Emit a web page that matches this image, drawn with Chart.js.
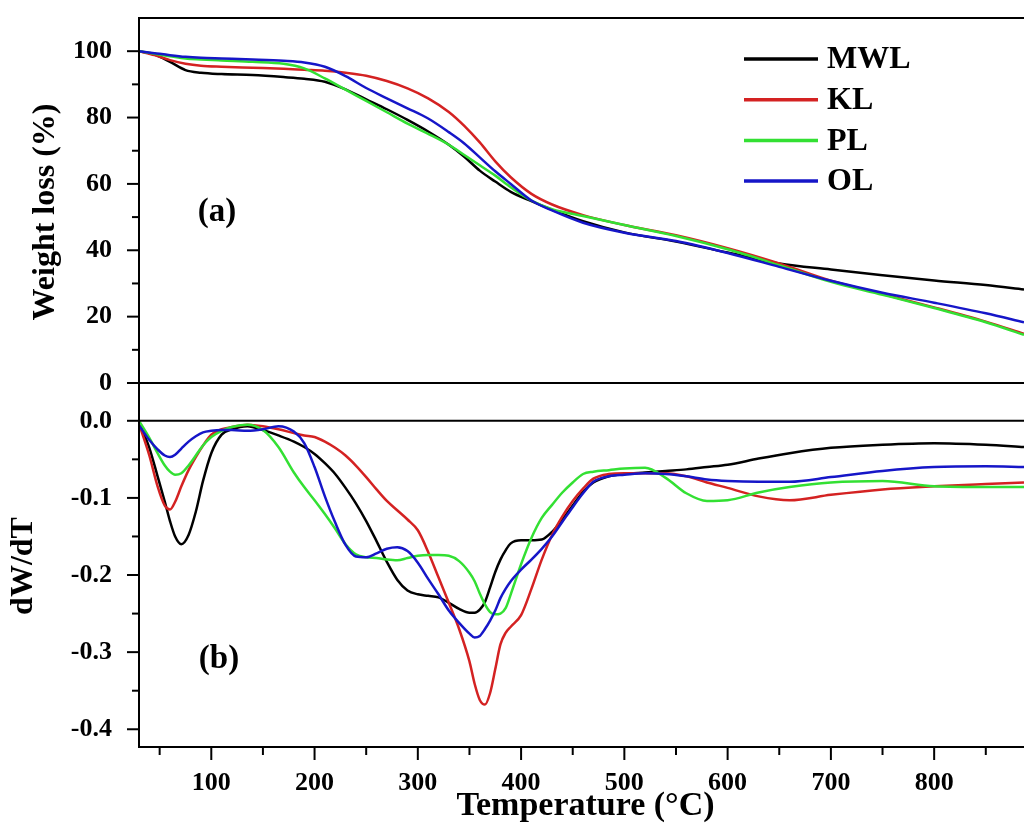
<!DOCTYPE html>
<html>
<head>
<meta charset="utf-8">
<script src="https://cdn.jsdelivr.net/npm/chart.js@4.4.1/dist/chart.umd.min.js"></script>
<style>
  html, body { margin: 0; padding: 0; background: #fff; }
</style>
</head>
<body>
<canvas id="tgChart" width="1024" height="828"></canvas>
<script>
// series names and colours
var seriesNames = ["MWL", "KL", "PL", "OL"];
var seriesColors = ["#000000", "#d42222", "#33e033", "#1616c8"];

// (a) weight loss curves
var tgTemps = [30, 45, 60, 75, 90, 110, 140, 170, 190, 210, 230, 250, 270, 290, 310, 330, 345, 360, 375, 390, 410, 430, 460, 500, 550, 600, 650, 700, 750, 800, 850, 887];
var tgMWL = [100, 99, 96.8, 94.3, 93.5, 93.1, 92.8, 92.2, 91.7, 90.8, 88.5, 85.5, 82.5, 79.3, 75.8, 71.8, 68.2, 64, 60.7, 57.6, 54.8, 52.2, 48.8, 45.4, 42.6, 39.3, 36, 34.2, 32.5, 30.9, 29.5, 28.2];
var tgKL = [100, 98.8, 97.3, 96.2, 95.6, 95.3, 95, 94.7, 94.4, 94.1, 93.5, 92.6, 91, 88.8, 85.8, 81.7, 77.5, 72.5, 66.8, 62, 57, 53.8, 50.6, 47.6, 44.5, 40.6, 36, 30.8, 26.8, 22.8, 18.5, 14.8];
var tgPL = [100, 99.2, 98.5, 97.8, 97.5, 97.2, 96.8, 96.2, 94.8, 91.8, 88.4, 85, 81.6, 78.2, 75.1, 71.8, 68.7, 65.6, 62.5, 59, 55, 52.4, 50.3, 47.6, 44.3, 40.3, 35.5, 30.5, 26.6, 22.6, 18.3, 14.5];
var tgOL = [100, 99.4, 98.8, 98.3, 98, 97.8, 97.5, 97.1, 96.6, 95.3, 92.5, 88.9, 85.8, 82.8, 79.7, 75.6, 72.2, 68, 63.8, 60, 55, 52, 48.3, 45.3, 42.8, 39.2, 35, 30.8, 27.2, 24.2, 21, 18.3];

// (b) derivative curves
var dtgTemps = [30, 40, 48, 55, 60, 65, 71, 78, 85, 92, 100, 110, 120, 135, 150, 165, 180, 190, 200, 210, 220, 230, 240, 250, 260, 270, 280, 290, 300, 310, 320, 330, 340, 350, 355, 360, 365, 370, 375, 380, 385, 390, 400, 410, 420, 430, 440, 450, 460, 470, 485, 500, 520, 540, 560, 580, 600, 630, 660, 700, 750, 800, 850, 887];
var dtgMWL = [-0.002, -0.035, -0.072, -0.105, -0.130, -0.150, -0.160, -0.148, -0.118, -0.078, -0.042, -0.018, -0.011, -0.007, -0.012, -0.019, -0.027, -0.034, -0.043, -0.055, -0.069, -0.087, -0.107, -0.130, -0.156, -0.183, -0.206, -0.220, -0.225, -0.227, -0.229, -0.236, -0.244, -0.249, -0.249, -0.245, -0.235, -0.216, -0.196, -0.180, -0.168, -0.159, -0.155, -0.155, -0.154, -0.144, -0.128, -0.110, -0.092, -0.080, -0.072, -0.069, -0.067, -0.065, -0.063, -0.060, -0.057, -0.049, -0.042, -0.035, -0.031, -0.029, -0.031, -0.034];
var dtgKL = [-0.004, -0.045, -0.085, -0.110, -0.115, -0.105, -0.085, -0.064, -0.047, -0.032, -0.018, -0.011, -0.008, -0.005, -0.007, -0.011, -0.016, -0.019, -0.021, -0.027, -0.035, -0.045, -0.058, -0.073, -0.089, -0.104, -0.116, -0.128, -0.142, -0.170, -0.203, -0.236, -0.270, -0.312, -0.341, -0.362, -0.368, -0.353, -0.322, -0.290, -0.275, -0.267, -0.252, -0.218, -0.180, -0.148, -0.124, -0.104, -0.088, -0.075, -0.069, -0.068, -0.068, -0.068, -0.072, -0.080, -0.087, -0.098, -0.103, -0.096, -0.089, -0.085, -0.082, -0.080];
var dtgPL = [0, -0.022, -0.042, -0.058, -0.066, -0.070, -0.068, -0.058, -0.045, -0.032, -0.021, -0.013, -0.008, -0.005, -0.012, -0.034, -0.067, -0.086, -0.103, -0.121, -0.140, -0.160, -0.173, -0.177, -0.178, -0.180, -0.181, -0.178, -0.175, -0.174, -0.174, -0.175, -0.182, -0.197, -0.208, -0.224, -0.238, -0.248, -0.251, -0.250, -0.243, -0.225, -0.186, -0.152, -0.126, -0.109, -0.093, -0.080, -0.069, -0.066, -0.064, -0.062, -0.061, -0.074, -0.094, -0.104, -0.103, -0.093, -0.086, -0.080, -0.078, -0.085, -0.086, -0.086];
var dtgOL = [-0.006, -0.025, -0.037, -0.045, -0.047, -0.044, -0.036, -0.027, -0.020, -0.015, -0.013, -0.012, -0.012, -0.013, -0.011, -0.007, -0.014, -0.029, -0.060, -0.098, -0.132, -0.161, -0.176, -0.177, -0.172, -0.166, -0.164, -0.169, -0.184, -0.205, -0.225, -0.246, -0.262, -0.276, -0.281, -0.279, -0.270, -0.259, -0.246, -0.230, -0.218, -0.208, -0.193, -0.180, -0.166, -0.150, -0.131, -0.112, -0.094, -0.079, -0.072, -0.070, -0.068, -0.069, -0.072, -0.076, -0.078, -0.079, -0.079, -0.073, -0.065, -0.060, -0.059, -0.060];

// ticks
var tempTicks = [100, 200, 300, 400, 500, 600, 700, 800];
var tempMinor = [50, 150, 250, 350, 450, 550, 650, 750, 850];
var weightTicks = [0, 20, 40, 60, 80, 100];
var weightMinor = [10, 30, 50, 70, 90];
var dtgTicks = [-0.4, -0.3, -0.2, -0.1, 0];
var dtgMinor = [-0.35, -0.25, -0.15, -0.05];

var serif = "'Liberation Serif', 'Times New Roman', serif";
var tickFont = { family: serif, size: 26, weight: "bold" };
var drawOrder = [3, 2, 1, 0]; // blue on top, black underneath

function points(xs, ys) {
    return xs.map(function (x, i) { return { x: x, y: ys[i] }; });
}

var datasets = [];
[tgMWL, tgKL, tgPL, tgOL].forEach(function (s, i) {
    datasets.push({
        label: seriesNames[i], data: points(tgTemps, s), yAxisID: "yW",
        borderColor: seriesColors[i], borderWidth: 2.5, pointRadius: 0,
        cubicInterpolationMode: "monotone", fill: false, order: drawOrder[i]
    });
});
[dtgMWL, dtgKL, dtgPL, dtgOL].forEach(function (s, i) {
    datasets.push({
        label: seriesNames[i], data: points(dtgTemps, s), yAxisID: "yD",
        borderColor: seriesColors[i], borderWidth: 2.5, pointRadius: 0,
        cubicInterpolationMode: "monotone", fill: false, order: drawOrder[i]
    });
});

// keep the tick labels from pushing the plot area around
function noPadding(s) {
    s.paddingTop = 0; s.paddingBottom = 0; s.paddingLeft = 0; s.paddingRight = 0;
}

// frame, ticks, titles, legend and panel labels
var framePlugin = {
    id: "frame",
    afterDraw: function (chart) {
        var ctx = chart.ctx, a = chart.chartArea;
        var sx = chart.scales.x, sw = chart.scales.yW, sd = chart.scales.yD;
        ctx.save();
        ctx.strokeStyle = "#000";
        ctx.lineWidth = 2;
        function line(x1, y1, x2, y2) {
            ctx.beginPath(); ctx.moveTo(x1, y1); ctx.lineTo(x2, y2); ctx.stroke();
        }
        line(a.left, a.top, a.right, a.top);
        line(a.left, sw.bottom, a.right, sw.bottom);
        line(a.left, sd.getPixelForValue(0), a.right, sd.getPixelForValue(0));
        line(a.left - 1, a.bottom, a.right, a.bottom);
        line(a.left, a.top - 1, a.left, a.bottom + 1);

        weightTicks.forEach(function (v) { var p = sw.getPixelForValue(v); line(a.left - 12, p, a.left, p); });
        weightMinor.forEach(function (v) { var p = sw.getPixelForValue(v); line(a.left - 7, p, a.left, p); });
        dtgTicks.forEach(function (v) { var p = sd.getPixelForValue(v); line(a.left - 12, p, a.left, p); });
        dtgMinor.forEach(function (v) { var p = sd.getPixelForValue(v); line(a.left - 7, p, a.left, p); });
        tempTicks.forEach(function (v) { var p = sx.getPixelForValue(v); line(p, a.bottom, p, a.bottom + 13); });
        tempMinor.forEach(function (v) { var p = sx.getPixelForValue(v); line(p, a.bottom, p, a.bottom + 8); });

        ctx.fillStyle = "#000";
        ctx.font = "bold 34px " + serif;
        ctx.textAlign = "center";
        ctx.textBaseline = "alphabetic";
        ctx.fillText("Temperature (\u00B0C)", (a.left + a.right) / 2 + 4, 815);

        ctx.font = "bold 32px " + serif;
        ctx.textBaseline = "middle";
        ctx.save();
        ctx.translate(46, 212);
        ctx.rotate(-Math.PI / 2);
        ctx.fillText("Weight loss (%)", 0, 0);
        ctx.restore();
        ctx.save();
        ctx.translate(24, 566);
        ctx.rotate(-Math.PI / 2);
        ctx.fillText("dW/dT", 0, 0);
        ctx.restore();

        ctx.font = "bold 33px " + serif;
        ctx.fillText("(a)", 217, 212);
        ctx.fillText("(b)", 219, 659);

        // legend
        ctx.font = "bold 32px " + serif;
        ctx.textAlign = "left";
        ctx.lineWidth = 3.5;
        seriesNames.forEach(function (name, i) {
            var y = 59 + i * 40.7;
            ctx.strokeStyle = seriesColors[i];
            line(744, y, 818, y);
            ctx.fillText(name, 827, y + 1);
        });
        ctx.restore();
    }
};

new Chart(document.getElementById("tgChart").getContext("2d"), {
    type: "line",
    data: { datasets: datasets },
    options: {
        responsive: false,
        animation: false,
        devicePixelRatio: 1,
        layout: { padding: { top: 18, right: 0, bottom: 0, left: 0 } },
        plugins: { legend: { display: false }, tooltip: { enabled: false } },
        scales: {
            x: {
                type: "linear", position: "bottom", min: 30, max: 887,
                grid: { display: false }, border: { display: false },
                ticks: { font: tickFont, color: "#000", padding: 13, maxRotation: 0, autoSkip: false },
                afterBuildTicks: function (s) { s.ticks = tempTicks.map(function (v) { return { value: v }; }); },
                afterFit: function (s) { s.height = 81; noPadding(s); }
            },
            yW: {
                type: "linear", position: "left", stack: "tga", stackWeight: 365, weight: 2,
                min: 0, max: 110,
                grid: { display: false }, border: { display: false },
                ticks: { font: tickFont, color: "#000", padding: 19, callback: function (v) { return String(v); } },
                afterBuildTicks: function (s) { s.ticks = weightTicks.map(function (v) { return { value: v }; }); },
                afterFit: function (s) { s.width = 139; noPadding(s); }
            },
            yD: {
                type: "linear", position: "left", stack: "tga", stackWeight: 364, weight: 1,
                min: -0.423, max: 0.049,
                grid: { display: false }, border: { display: false },
                ticks: { font: tickFont, color: "#000", padding: 19, callback: function (v) { return v.toFixed(1); } },
                afterBuildTicks: function (s) { s.ticks = dtgTicks.map(function (v) { return { value: v }; }); },
                afterFit: function (s) { s.width = 139; noPadding(s); }
            }
        }
    },
    plugins: [framePlugin]
});
</script>
</body>
</html>
